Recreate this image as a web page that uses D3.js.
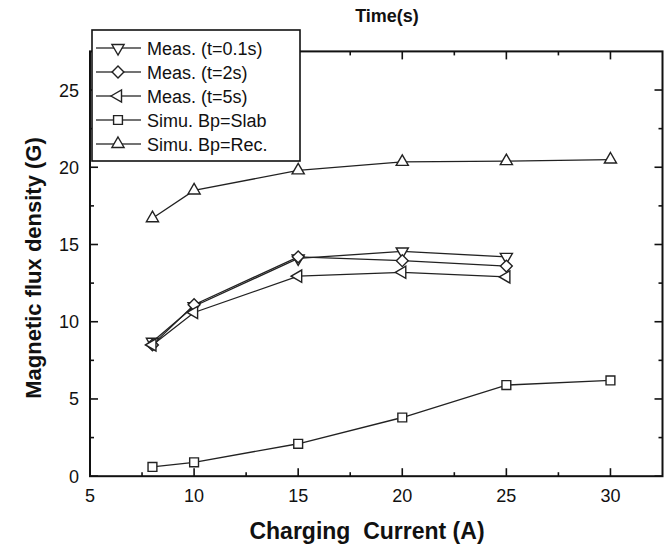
<!DOCTYPE html>
<html>
<head>
<meta charset="utf-8">
<script src="https://cdn.jsdelivr.net/npm/d3@7"></script>
<style>
  body { margin: 0; background: #fff; }
  text { font-family: "Liberation Sans", Arial, sans-serif; fill: #111; }
</style>
</head>
<body>
<div id="chart"></div>
<script>
// data
const measX = [8, 10, 15, 20, 25];
const meas01 = [8.7, 11.0, 14.1, 14.55, 14.2];
const meas2 = [8.5, 11.1, 14.2, 13.95, 13.6];
const meas5 = [8.5, 10.6, 12.95, 13.2, 12.9];
const simuX = [8, 10, 15, 20, 25, 30];
const simuSlab = [0.6, 0.9, 2.1, 3.8, 5.9, 6.2];
const simuRec = [16.7, 18.5, 19.8, 20.35, 20.4, 20.5];
const xTicks = [5, 10, 15, 20, 25, 30];
const yTicks = [0, 5, 10, 15, 20, 25];
const seriesNames = ["Meas. (t=0.1s)", "Meas. (t=2s)", "Meas. (t=5s)", "Simu. Bp=Slab", "Simu. Bp=Rec."];

const width = 671, height = 544;

const series = [
  { name: seriesNames[0], xs: measX, ys: meas01, shape: "down" },
  { name: seriesNames[1], xs: measX, ys: meas2, shape: "diamond" },
  { name: seriesNames[2], xs: measX, ys: meas5, shape: "left" },
  { name: seriesNames[3], xs: simuX, ys: simuSlab, shape: "square" },
  { name: seriesNames[4], xs: simuX, ys: simuRec, shape: "up" }
];

const x = d3.scaleLinear().domain([5, 32.5]).range([90, 662.5]);
const y = d3.scaleLinear().domain([0, 27.5]).range([476.2, 51.4]);

const svg = d3.select("#chart").append("svg")
  .attr("width", width).attr("height", height);

// marker paths
function marker(shape) {
  if (shape === "square") return { d: d3.symbol(d3.symbolSquare, 78)(), rot: 0 };
  if (shape === "diamond") return { d: d3.symbol(d3.symbolSquare, 70)(), rot: 45 };
  const tri = d3.symbol(d3.symbolTriangle, 64)();
  if (shape === "down") return { d: tri, rot: 180 };
  if (shape === "left") return { d: tri, rot: -90 };
  return { d: tri, rot: 0 };
}

// ticks, inward on all four sides
const minorX = d3.range(7.5, 32.5, 5);
const minorY = d3.range(2.5, 27.5, 5);
const x0 = x.range()[0], x1 = x.range()[1], y0 = y.range()[0], y1 = y.range()[1];

const tickG = svg.append("g").attr("stroke", "#111").attr("stroke-width", 1.6);
xTicks.concat(minorX).forEach(v => {
  const len = xTicks.includes(v) ? 8 : 4;
  tickG.append("line").attr("x1", x(v)).attr("x2", x(v)).attr("y1", y0).attr("y2", y0 - len);
  tickG.append("line").attr("x1", x(v)).attr("x2", x(v)).attr("y1", y1).attr("y2", y1 + len);
});
yTicks.concat(minorY).forEach(v => {
  const len = yTicks.includes(v) ? 8 : 4;
  tickG.append("line").attr("y1", y(v)).attr("y2", y(v)).attr("x1", x0).attr("x2", x0 + len);
  tickG.append("line").attr("y1", y(v)).attr("y2", y(v)).attr("x1", x1).attr("x2", x1 - len);
});

svg.append("rect")
  .attr("x", x0).attr("y", y1)
  .attr("width", x1 - x0).attr("height", y0 - y1)
  .attr("fill", "none").attr("stroke", "#111").attr("stroke-width", 2);

// tick labels
svg.append("g").selectAll("text").data(xTicks).join("text")
  .attr("x", d => x(d)).attr("y", 501.5)
  .attr("text-anchor", "middle").attr("font-size", "18px")
  .text(d => d);

svg.append("g").selectAll("text").data(yTicks).join("text")
  .attr("x", 79).attr("y", d => y(d) + 6.5)
  .attr("text-anchor", "end").attr("font-size", "18px")
  .text(d => d);

// axis titles
svg.append("text")
  .attr("x", 367).attr("y", 539)
  .attr("text-anchor", "middle").attr("font-size", "23px").attr("font-weight", "bold")
  .attr("xml:space", "preserve")
  .text("Charging  Current (A)");

svg.append("text")
  .attr("transform", "translate(41,268) rotate(-90)")
  .attr("text-anchor", "middle").attr("font-size", "22px").attr("font-weight", "bold")
  .text("Magnetic flux density (G)");

svg.append("text")
  .attr("x", 387).attr("y", 22)
  .attr("text-anchor", "middle").attr("font-size", "18px").attr("font-weight", "bold")
  .text("Time(s)");

// series
const line = d3.line().x(d => x(d[0])).y(d => y(d[1]));

series.forEach(s => {
  const pts = s.xs.map((v, i) => [v, s.ys[i]]);
  svg.append("path")
    .attr("d", line(pts))
    .attr("fill", "none").attr("stroke", "#222").attr("stroke-width", 1.3);
});

series.forEach(s => {
  const m = marker(s.shape);
  svg.append("g").selectAll("path")
    .data(s.xs.map((v, i) => [v, s.ys[i]]))
    .join("path")
    .attr("d", m.d)
    .attr("transform", d => `translate(${x(d[0])},${y(d[1])}) rotate(${m.rot})`)
    .attr("fill", "#fff").attr("stroke", "#222").attr("stroke-width", 1.4);
});

// legend
const legend = svg.append("g");
legend.append("rect")
  .attr("x", 92).attr("y", 30).attr("width", 208).attr("height", 131)
  .attr("fill", "#fff").attr("stroke", "#111").attr("stroke-width", 1.6);

series.forEach((s, i) => {
  const ly = 48 + i * 24;
  legend.append("line")
    .attr("x1", 96).attr("x2", 141).attr("y1", ly).attr("y2", ly)
    .attr("stroke", "#444").attr("stroke-width", 1.3);
  const m = marker(s.shape);
  legend.append("path")
    .attr("d", m.d)
    .attr("transform", `translate(118,${ly}) rotate(${m.rot})`)
    .attr("fill", "#fff").attr("stroke", "#222").attr("stroke-width", 1.4);
  legend.append("text")
    .attr("x", 147).attr("y", ly + 6.5)
    .attr("font-size", "18px")
    .text(s.name);
});
</script>
</body>
</html>
